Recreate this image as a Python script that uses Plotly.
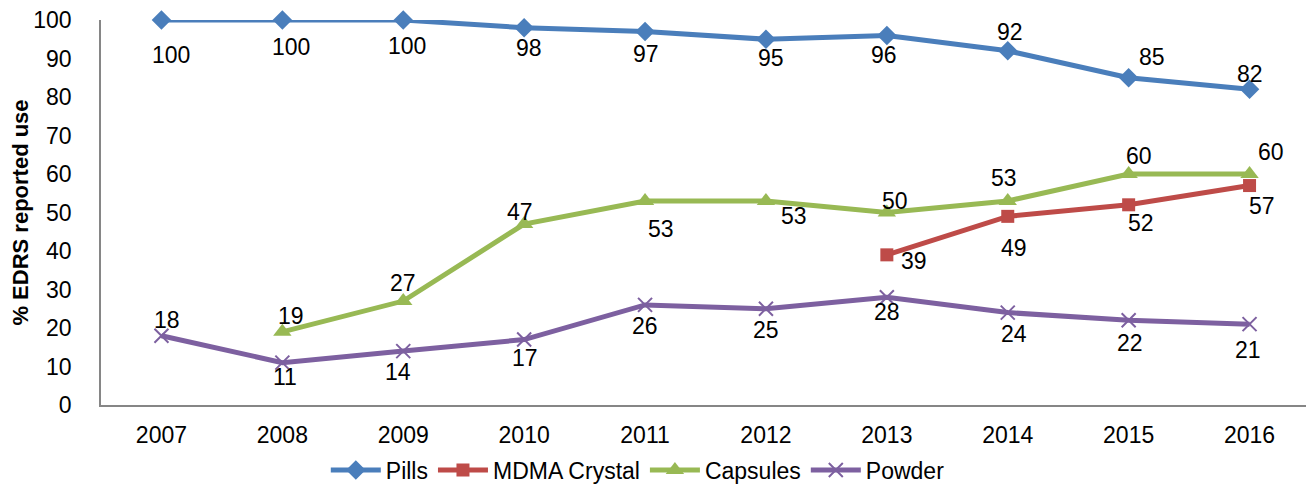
import plotly.graph_objects as go

years = ['2007', '2008', '2009', '2010', '2011', '2012', '2013', '2014', '2015', '2016']

pills = [100, 100, 100, 98, 97, 95, 96, 92, 85, 82]
mdma_crystal = [None, None, None, None, None, None, 39, 49, 52, 57]
capsules = [None, 19, 27, 47, 53, 53, 50, 53, 60, 60]
powder = [18, 11, 14, 17, 26, 25, 28, 24, 22, 21]

# data label offsets from each point, in pixels (dx right, dy down)
pills_off = [(10, 35), (9, 27), (4, 26), (5, 20), (1, 22), (5, 19), (-3, 20), (2, -19), (23, -21), (0, -15)]
mdma_off = [None] * 6 + [(27, 6), (6, 32), (12, 18), (12, 20)]
caps_off = [None, (9, -16), (0, -18), (-4, -12), (16, 28), (28, 15), (8, -12), (-4, -23), (10, -18), (21, -22)]
powder_off = [(6, -16), (3, 14), (-5, 21), (1, 18), (0, 21), (0, 21), (0, 15), (6, 21), (1, 23), (-2, 26)]

FONT = 'Liberation Sans, Arial'

fig = go.Figure()

series = [
    ('Pills', pills, pills_off, '#4A7EBB', dict(symbol='diamond', size=15)),
    ('MDMA Crystal', mdma_crystal, mdma_off, '#BE4B48', dict(symbol='square', size=13)),
    ('Capsules', capsules, caps_off, '#98B954', dict(symbol='triangle-up', size=16)),
    ('Powder', powder, powder_off, '#7D60A0',
     dict(symbol='x-thin', size=14, line=dict(width=2, color='#7D60A0'))),
]

for name, vals, offs, color, marker in series:
    fig.add_trace(go.Scatter(
        x=years,
        y=vals,
        name=name,
        mode='lines+markers',
        line=dict(color=color, width=5),
        marker=dict(color=color, **marker),
        connectgaps=False,
        cliponaxis=False,
    ))
    for i, (v, off) in enumerate(zip(vals, offs)):
        if v is None:
            continue
        # category axis: annotation x given as category index
        fig.add_annotation(
            x=i, y=v, text=str(v), showarrow=False,
            xshift=off[0], yshift=-off[1],
            font=dict(size=23, color='black', family=FONT),
        )

# page body has an 8px margin, so the figure is 8px smaller than the window
fig.update_layout(
    width=1306,
    height=477,
    paper_bgcolor='white',
    plot_bgcolor='white',
    font=dict(family=FONT, size=23, color='black'),
    margin=dict(l=93, r=4, t=12, b=80, autoexpand=False),
    legend=dict(
        orientation='h',
        x=0.444, xanchor='center',
        y=-0.169, yanchor='middle',
        font=dict(size=23),
        itemwidth=50,
        tracegroupgap=0,
    ),
    xaxis=dict(
        type='category',
        categoryarray=years,
        range=[-0.5, len(years) - 0.5],
        showline=True, linecolor='#868686', linewidth=1.5,
        showgrid=False, ticks='',
        tickfont=dict(size=23),
        ticklabelstandoff=9,
    ),
    yaxis=dict(
        range=[0, 100],
        dtick=10,
        showline=True, linecolor='#868686', linewidth=1.5,
        showgrid=False, ticks='',
        zeroline=False,
        tickfont=dict(size=23),
        ticklabelstandoff=23,
        ticklabeloverflow='allow',
        automargin=False,
        title=dict(text='<b>% EDRS reported use</b>', font=dict(size=22), standoff=13),
    ),
)

fig.write_html('out.html')
